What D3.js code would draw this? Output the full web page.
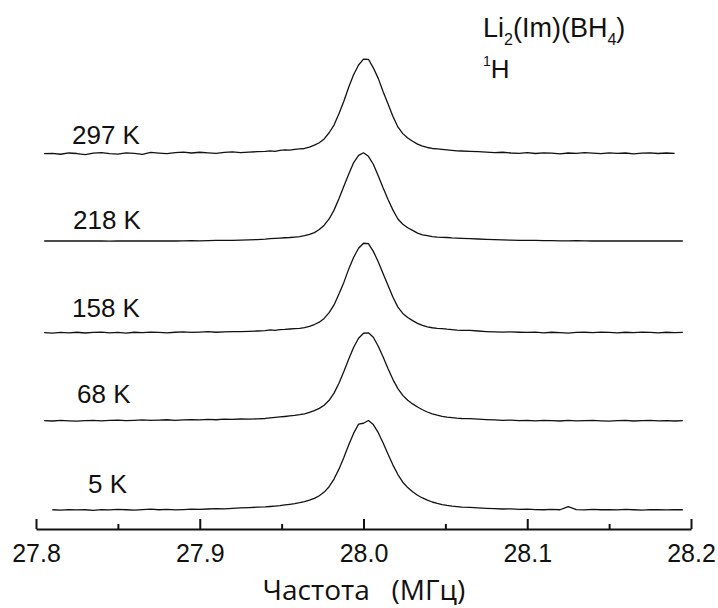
<!DOCTYPE html>
<html>
<head>
<meta charset="utf-8">
<script src="https://cdn.jsdelivr.net/npm/d3@7"></script>
<style>
  html, body { margin: 0; padding: 0; background: #fff; }
  svg { display: block; }
</style>
</head>
<body>
<script>
// Frequency grid (MHz): coarse in the wings, finer across the line
const frequency = [
  27.805,27.810,27.815,27.820,27.825,27.830,27.835,27.840,27.845,27.850,27.855,27.860,27.865,27.870,
  27.875,27.880,27.885,27.890,27.895,27.900,27.905,27.910,27.915,27.920,27.925,27.930,27.935,27.940,
  27.943,27.946,27.949,27.952,27.955,27.958,27.961,27.964,27.967,27.970,27.973,27.976,27.979,27.982,
  27.985,27.988,27.991,27.994,27.997,28.000,28.003,28.006,28.009,28.012,28.015,28.018,28.021,28.024,
  28.027,28.030,28.033,28.036,28.039,28.042,28.045,28.048,28.051,28.054,28.057,28.060,
  28.065,28.070,28.075,28.080,28.085,28.090,28.095,28.100,28.105,28.110,28.115,28.120,28.125,28.130,
  28.135,28.140,28.145,28.150,28.155,28.160,28.165,28.170,28.175,28.180,28.185,28.190,28.195
];

// Normalised 1H NMR intensity at each temperature
const intensity297K = [
  0.000,0.004,-0.006,0.008,0.002,-0.010,0.006,0.012,0.000,-0.004,0.010,0.004,-0.008,0.014,
  0.006,0.000,0.012,0.018,0.008,0.016,0.010,0.004,0.014,0.020,0.012,0.018,0.022,0.026,
  0.032,0.026,0.037,0.042,0.040,0.048,0.053,0.058,0.074,0.095,0.122,0.164,0.233,0.318,
  0.445,0.583,0.742,0.880,0.986,1.050,1.049,0.954,0.837,0.689,0.551,0.413,0.297,0.223,
  0.175,0.138,0.106,0.085,0.069,0.058,0.053,0.048,0.042,0.037,0.032,0.030,
  0.026,0.022,0.018,0.012,0.016,0.008,0.004,0.012,0.002,0.010,0.006,-0.002,0.008,0.004,
  0.012,0.006,0.000,0.010,0.004,0.008,-0.002,0.006,0.010,0.002,0.008,0.004,null
];
const intensity218K = [
  0.000,0.000,0.002,0.000,0.000,0.002,0.000,0.000,-0.002,0.000,0.000,0.002,0.000,0.000,
  0.000,0.002,0.000,0.002,0.004,0.002,0.004,0.006,0.006,0.008,0.010,0.012,0.016,0.020,
  0.027,0.029,0.032,0.036,0.039,0.044,0.049,0.059,0.074,0.093,0.127,0.176,0.245,0.343,
  0.470,0.608,0.745,0.872,0.951,0.980,0.941,0.853,0.725,0.588,0.461,0.343,0.245,0.186,
  0.147,0.118,0.088,0.069,0.059,0.049,0.044,0.041,0.039,0.034,0.031,0.029,
  0.026,0.022,0.018,0.015,0.012,0.010,0.008,0.006,0.006,0.004,0.004,0.002,0.002,0.004,
  0.002,0.000,0.002,0.000,0.002,0.000,0.000,0.002,0.000,0.000,0.002,0.000,0.000
];
const intensity158K = [
  0.002,-0.004,0.004,0.000,0.006,-0.002,0.004,0.008,0.000,0.004,-0.004,0.006,0.002,0.008,
  0.004,0.000,0.006,0.010,0.004,0.008,0.012,0.006,0.010,0.014,0.012,0.016,0.020,0.024,
  0.032,0.028,0.036,0.038,0.042,0.046,0.050,0.058,0.072,0.092,0.118,0.160,0.225,0.310,
  0.430,0.560,0.710,0.840,0.940,0.995,0.990,0.905,0.790,0.655,0.525,0.395,0.285,0.215,
  0.170,0.135,0.105,0.082,0.066,0.056,0.050,0.046,0.040,0.036,0.030,0.028,
  0.026,0.020,0.014,0.010,0.008,0.010,0.006,0.004,0.008,0.000,0.006,0.002,-0.004,0.004,
  0.006,0.002,0.008,0.004,0.000,0.006,0.002,0.008,0.004,0.000,0.006,0.002,0.004
];
const intensity68K = [
  0.004,0.000,0.006,0.002,-0.002,0.004,0.008,0.002,0.006,0.010,0.004,0.008,0.012,0.006,
  0.010,0.014,0.008,0.012,0.016,0.012,0.018,0.014,0.020,0.018,0.022,0.020,0.024,0.028,
  0.035,0.040,0.045,0.050,0.056,0.062,0.070,0.080,0.095,0.115,0.140,0.175,0.230,0.310,
  0.420,0.550,0.690,0.820,0.920,0.975,0.980,0.930,0.830,0.710,0.580,0.460,0.360,0.285,
  0.230,0.190,0.155,0.125,0.100,0.080,0.065,0.052,0.044,0.038,0.032,0.028,
  0.026,0.020,0.016,0.012,0.008,0.010,0.004,0.006,0.002,0.008,0.004,0.000,0.006,0.002,
  0.004,0.008,0.002,-0.002,0.004,0.006,0.000,0.004,0.008,0.002,0.004,0.000,0.004
];
const intensity5K = [
  null,0.004,0.000,0.006,0.002,0.004,-0.002,0.006,0.002,0.008,0.004,0.000,0.006,0.010,
  0.004,0.008,0.002,0.006,0.010,0.008,0.012,0.016,0.014,0.020,0.024,0.028,0.032,0.036,
  0.040,0.045,0.050,0.057,0.064,0.072,0.082,0.094,0.110,0.130,0.160,0.200,0.260,0.345,
  0.455,0.585,0.725,0.855,0.955,0.965,0.995,0.950,0.860,0.745,0.620,0.500,0.395,0.310,
  0.250,0.205,0.165,0.135,0.110,0.090,0.075,0.062,0.052,0.044,0.038,0.033,
  0.030,0.024,0.020,0.016,0.012,0.014,0.008,0.010,0.006,0.004,0.008,0.004,0.038,0.006,
  0.002,0.008,0.004,0.006,0.002,0.008,0.004,0.000,0.006,0.004,0.002,0.006,0.004
];

const temperatureLabels = ["297 K", "218 K", "158 K", "68 K", "5 K"];
const spectra = [intensity297K, intensity218K, intensity158K, intensity68K, intensity5K];
// vertical stacking offset of each spectrum (in intensity units)
const offsets = [4.17, 3.2, 2.18, 1.2, 0.21];

const majorTicks = [27.8, 27.9, 28.0, 28.1, 28.2];
const minorTicks = [27.85, 27.95, 28.05, 28.15];

const width = 718, height = 608;
const svg = d3.select("body").append("svg")
  .attr("width", width).attr("height", height);

const x = d3.scaleLinear().domain([27.8, 28.2]).range([36, 691]);
const y = d3.scaleLinear().domain([0, 5.5]).range([529, 34]);

// stacked spectra
spectra.forEach((values, i) => {
  const pts = frequency.map((f, j) => [f, values[j]]);
  const line = d3.line()
    .defined(d => d[1] != null)
    .x(d => x(d[0]))
    .y(d => y(offsets[i] + d[1]));
  svg.append("path")
    .datum(pts)
    .attr("d", line)
    .attr("fill", "none")
    .attr("stroke", "#111")
    .attr("stroke-width", 1.3)
    .attr("stroke-linejoin", "round");
});

// temperature labels
const labelPos = [[72, 144], [73, 229], [72, 317], [77, 403], [88, 493]];
svg.selectAll("text.temp")
  .data(temperatureLabels)
  .join("text")
  .attr("class", "temp")
  .attr("x", (d, i) => labelPos[i][0])
  .attr("y", (d, i) => labelPos[i][1])
  .attr("font-family", "'Liberation Sans', Arial, sans-serif")
  .attr("font-size", 26)
  .attr("fill", "#111")
  .text(d => d);

// x axis: major ticks with labels, minor ticks without
const axisMajor = d3.axisBottom(x)
  .tickValues(majorTicks)
  .tickFormat(d3.format(".1f"))
  .tickSizeInner(-10)
  .tickSizeOuter(0)
  .tickPadding(15);
const gMajor = svg.append("g").attr("transform", "translate(0,529)").call(axisMajor);
gMajor.select(".domain").attr("stroke", "#111").attr("stroke-width", 2);
gMajor.selectAll(".tick line").attr("stroke", "#111").attr("stroke-width", 2);
gMajor.selectAll(".tick text")
  .attr("font-family", "'Liberation Sans', Arial, sans-serif")
  .attr("font-size", 25)
  .attr("fill", "#111");

const axisMinor = d3.axisBottom(x)
  .tickValues(minorTicks)
  .tickFormat("")
  .tickSizeInner(-5)
  .tickSizeOuter(0);
const gMinor = svg.append("g").attr("transform", "translate(0,529)").call(axisMinor);
gMinor.select(".domain").remove();
gMinor.selectAll(".tick line").attr("stroke", "#111").attr("stroke-width", 2);

// axis title
svg.append("text")
  .attr("x", 364).attr("y", 600)
  .attr("text-anchor", "middle")
  .attr("font-family", "'Open Sans', 'Noto Sans', sans-serif")
  .attr("font-size", 28)
  .attr("fill", "#111")
  .attr("xml:space", "preserve")
  .style("white-space", "pre")
  .text("Частота   (МГц)");

// compound and nucleus
const title = svg.append("text")
  .attr("x", 483).attr("y", 37)
  .attr("font-family", "'Liberation Sans', Arial, sans-serif")
  .attr("font-size", 27)
  .attr("fill", "#111");
title.append("tspan").text("Li");
title.append("tspan").attr("font-size", 16).attr("dy", 8).text("2");
title.append("tspan").attr("dy", -8).text("(Im)(BH");
title.append("tspan").attr("font-size", 16).attr("dy", 8).text("4");
title.append("tspan").attr("dy", -8).text(")");

const nucleus = svg.append("text")
  .attr("x", 483).attr("y", 78)
  .attr("font-family", "'Liberation Sans', Arial, sans-serif")
  .attr("font-size", 26)
  .attr("fill", "#111");
nucleus.append("tspan").attr("font-size", 14).attr("dy", -12).text("1");
nucleus.append("tspan").attr("dy", 12).text("H");
</script>
</body>
</html>
